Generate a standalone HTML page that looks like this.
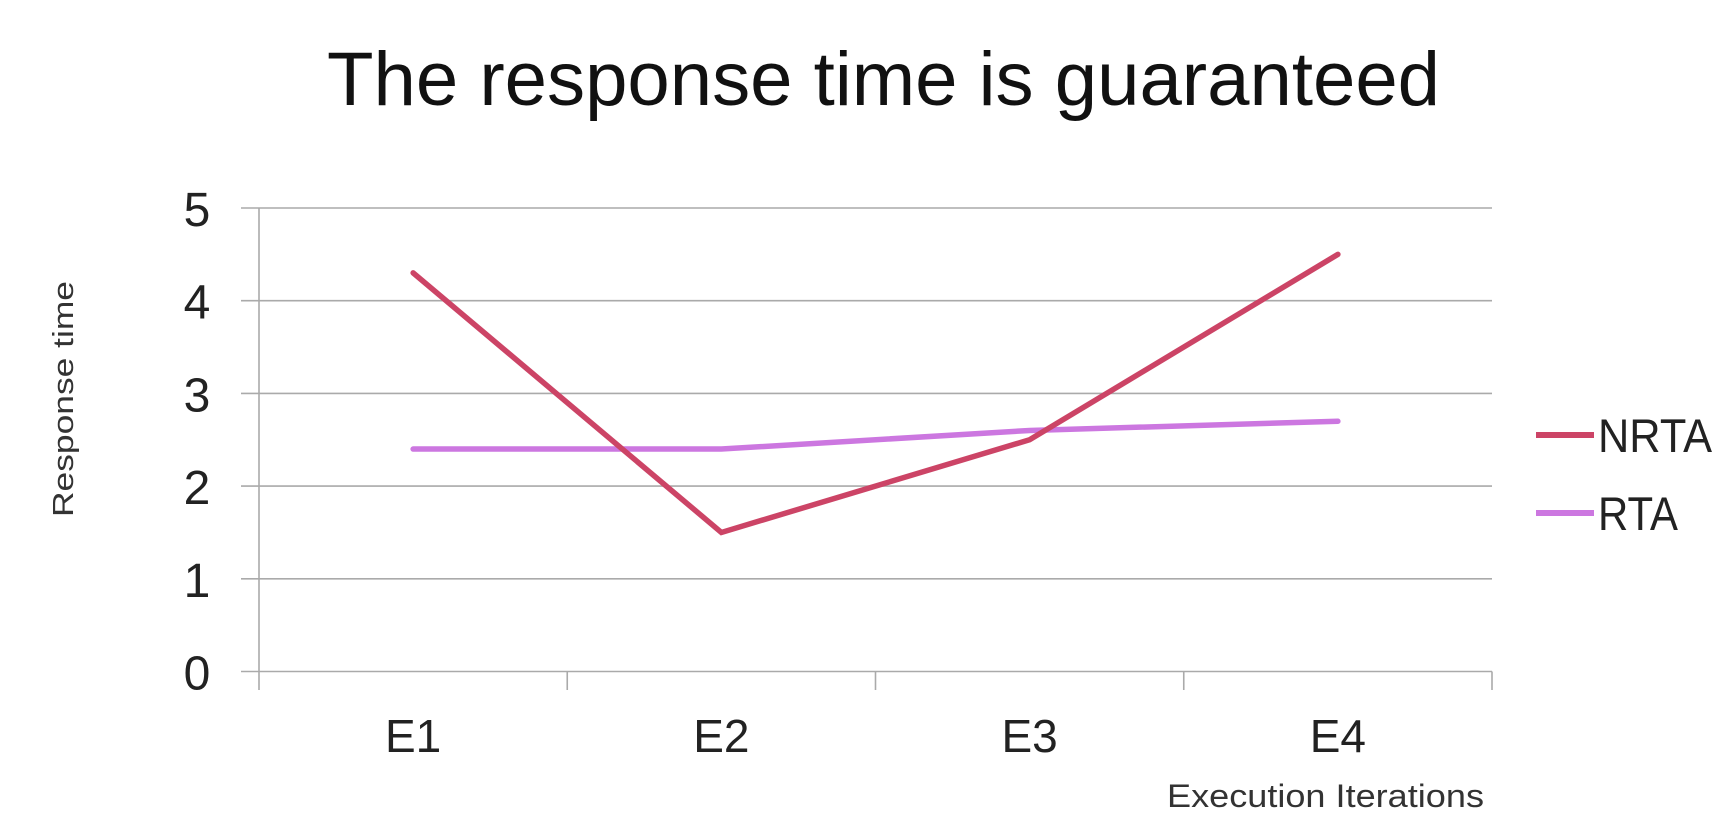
<!DOCTYPE html>
<html><head><meta charset="utf-8"><style>
html,body{margin:0;padding:0;background:#fff;}
svg{display:block;font-family:"Liberation Sans",sans-serif;}
</style></head><body>
<svg id="chart" width="1726" height="830" viewBox="0 0 1726 830" xmlns="http://www.w3.org/2000/svg">
<text x="327" y="105" font-size="76" fill="#111" textLength="1113" lengthAdjust="spacingAndGlyphs">The response time is guaranteed</text>
<text transform="translate(73,399) rotate(-90)" text-anchor="middle" font-size="29" fill="#333" textLength="236" lengthAdjust="spacingAndGlyphs">Response time</text>
<text x="1167" y="807" font-size="32" fill="#333" textLength="317" lengthAdjust="spacingAndGlyphs">Execution Iterations</text>
<g id="grid"></g><g id="series"></g>
<g>
<g><line x1="1536" y1="435" x2="1594" y2="435" stroke="#cc4466" stroke-width="6"/><text x="1598" y="452" font-size="47" fill="#222" textLength="114" lengthAdjust="spacingAndGlyphs">NRTA</text></g>
<g><line x1="1536" y1="513" x2="1594" y2="513" stroke="#cc77e0" stroke-width="6"/><text x="1598" y="530" font-size="47" fill="#222" textLength="80" lengthAdjust="spacingAndGlyphs">RTA</text></g>
</g>
</svg>
<script>
const categories=["E1","E2","E3","E4"];
const nrta=[4.3,1.5,2.5,4.5];
const rta=[2.4,2.4,2.6,2.7];
const yTicks=[0,1,2,3,4,5];
const NS="http://www.w3.org/2000/svg";
const L=259,R=1492,T=208,B=671.5,yMax=5;
const cw=(R-L)/categories.length;
const xs=i=>L+cw*(i+0.5);
const ys=v=>B-(v/yMax)*(B-T);
function mk(tag,attrs,parent){const e=document.createElementNS(NS,tag);for(const k in attrs)e.setAttribute(k,attrs[k]);parent.appendChild(e);return e;}
const grid=document.getElementById('grid');
yTicks.forEach(t=>{
  const g=mk('line',{x1:241,x2:R,y1:ys(t),y2:ys(t),stroke:'#aaa','stroke-width':1.6},grid);
  
  
  const tx=mk('text',{x:197,y:ys(t)+18,'text-anchor':'middle','font-size':48,fill:'#222'},grid);
  tx.textContent=t;
  
  
});
const ax=mk('line',{x1:L,x2:L,y1:T,y2:690,stroke:'#aaa','stroke-width':1.6},grid);


for(let i=1;i<=categories.length;i++){
  const tk=mk('line',{x1:L+cw*i,x2:L+cw*i,y1:B,y2:690,stroke:'#aaa','stroke-width':1.6},grid);
  
  
}
categories.forEach((c,i)=>{
  const tx=mk('text',{x:xs(i),y:752,'text-anchor':'middle','font-size':46,fill:'#222'},grid);
  tx.textContent=c;
  
  
});
const sg=document.getElementById('series');
[[rta,'#cc77e0','rta-line'],[nrta,'#cc4466','nrta-line']].forEach(([d,col,name])=>{
  const p=mk('polyline',{points:d.map((v,i)=>xs(i)+','+ys(v)).join(' '),fill:'none',stroke:col,'stroke-width':5.5,'stroke-linecap':'round','stroke-linejoin':'miter'},sg);
  
  
});
</script>
</body></html>
